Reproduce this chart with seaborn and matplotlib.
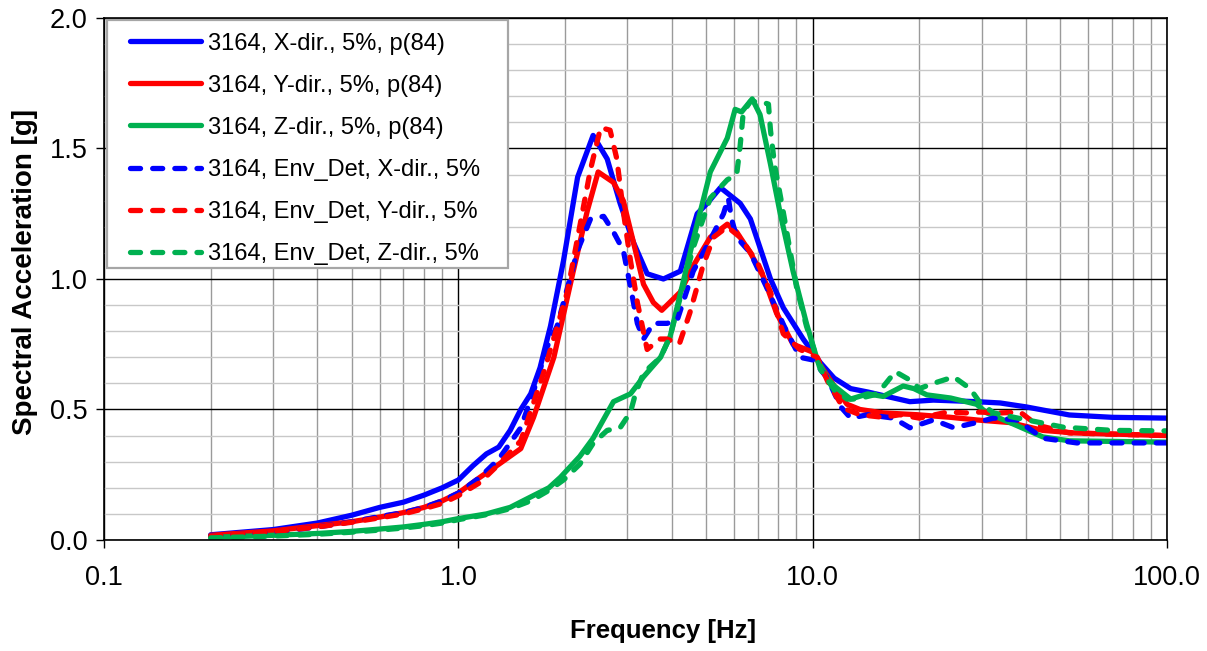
import matplotlib
matplotlib.use("Agg")
import matplotlib.pyplot as plt
import matplotlib.ticker as mticker
from matplotlib.patches import Rectangle
from matplotlib.legend_handler import HandlerLine2D
import seaborn as sns
import numpy as np
import pandas as pd

# ---- data (frequency [Hz], spectral acceleration [g]) ----
x_p84_f = [0.2, 0.3, 0.4, 0.5, 0.6, 0.7, 0.8, 0.9, 1.0, 1.1, 1.2, 1.3, 1.4, 1.5, 1.6, 1.7,
           1.82, 1.98, 2.17, 2.4, 2.63, 2.86, 3.12, 3.41, 3.79, 4.23, 4.72, 5.04, 5.49, 6.24,
           6.67, 7.1, 7.6, 8.26, 9.4, 10.5, 11.5, 12.8, 14.3, 16.2, 18.8, 21.9, 29, 33.8, 40,
           53, 70, 100]
x_p84_sa = [0.02, 0.04, 0.065, 0.095, 0.125, 0.145, 0.172, 0.2, 0.23, 0.285, 0.33, 0.356, 0.42,
            0.5, 0.56, 0.66, 0.82, 1.07, 1.39, 1.55, 1.46, 1.29, 1.14, 1.02, 1.0, 1.03, 1.25,
            1.29, 1.35, 1.29, 1.23, 1.12, 1.0, 0.89, 0.77, 0.68, 0.62, 0.58, 0.567, 0.55, 0.53,
            0.536, 0.53, 0.525, 0.51, 0.479, 0.47, 0.467]

y_p84_f = [0.2, 0.3, 0.4, 0.5, 0.6, 0.7, 0.8, 0.9, 1.0, 1.15, 1.3, 1.43, 1.5, 1.63, 1.86, 2.11,
           2.31, 2.48, 2.74, 2.92, 3.12, 3.33, 3.55, 3.75, 4.23, 4.6, 5.14, 5.74, 6.1, 6.67,
           7.25, 7.9, 8.8, 10, 10.5, 11.5, 12.5, 13.6, 15.8, 19.7, 24.5, 29, 36, 44.6, 55, 100]
y_p84_sa = [0.018, 0.035, 0.055, 0.07, 0.088, 0.105, 0.125, 0.15, 0.18, 0.24, 0.29, 0.33, 0.35,
            0.47, 0.70, 1.03, 1.26, 1.41, 1.37, 1.30, 1.14, 0.98, 0.91, 0.88, 0.95, 1.05, 1.16,
            1.21, 1.18, 1.10, 1.01, 0.87, 0.75, 0.72, 0.67, 0.59, 0.52, 0.50, 0.487, 0.48, 0.47,
            0.46, 0.45, 0.42, 0.41, 0.40]

z_p84_f = [0.2, 0.3, 0.4, 0.5, 0.6, 0.7, 0.8, 0.9, 1.0, 1.2, 1.4, 1.6, 1.8, 1.94, 2.2, 2.4,
           2.74, 3.06, 3.33, 3.72, 3.96, 4.14, 4.6, 5.14, 5.74, 6.04, 6.3, 6.75, 7.1, 7.6, 8.1,
           8.8, 9.6, 10.3, 11, 11.5, 12.8, 14.3, 15.8, 18, 19.3, 21, 24.5, 29, 31, 36, 44.6, 53,
           100]
z_p84_sa = [0.01, 0.018, 0.025, 0.033, 0.042, 0.05, 0.06, 0.07, 0.082, 0.1, 0.125, 0.165, 0.2,
            0.24, 0.32, 0.39, 0.53, 0.56, 0.625, 0.70, 0.78, 0.89, 1.15, 1.41, 1.54, 1.65, 1.64,
            1.69, 1.63, 1.44, 1.25, 1.03, 0.83, 0.69, 0.62, 0.59, 0.54, 0.56, 0.55, 0.59, 0.58,
            0.556, 0.544, 0.52, 0.487, 0.45, 0.395, 0.38, 0.375]

x_env_f = [0.2, 0.3, 0.4, 0.5, 0.6, 0.7, 0.8, 0.9, 1.0, 1.15, 1.3, 1.5, 1.63, 1.78, 1.9, 2.17,
           2.36, 2.57, 2.74, 2.92, 3.06, 3.2, 3.33, 3.55, 3.88, 4.14, 4.6, 5.14, 5.6, 5.78, 5.9,
           6.1, 6.67, 7.4, 8.3, 9.2, 10, 11, 12, 12.8, 14.3, 16.9, 18.8, 21.9, 25, 29, 32.4,
           37.7, 44.6, 55.6, 100]
x_env_sa = [0.015, 0.03, 0.05, 0.07, 0.09, 0.105, 0.125, 0.15, 0.18, 0.24, 0.31, 0.43, 0.57,
            0.74, 0.82, 1.11, 1.23, 1.24, 1.18, 1.11, 0.97, 0.83, 0.77, 0.83, 0.83, 0.84, 1.03,
            1.15, 1.25, 1.31, 1.23, 1.16, 1.10, 0.97, 0.82, 0.70, 0.69, 0.62, 0.51, 0.467, 0.48,
            0.467, 0.43, 0.46, 0.43, 0.45, 0.467, 0.46, 0.39, 0.372, 0.372]

y_env_f = [0.2, 0.3, 0.4, 0.5, 0.6, 0.7, 0.8, 0.9, 1.0, 1.15, 1.3, 1.5, 1.74, 2.03, 2.2, 2.36,
           2.52, 2.68, 2.8, 2.92, 3.06, 3.2, 3.41, 3.7, 3.88, 4.2, 4.5, 4.9, 5.25, 5.74, 6.24,
           7.0, 7.6, 8.26, 9.2, 10.3, 11, 12.2, 13.6, 15.8, 17.6, 20, 24, 27, 29.6, 34, 38.5,
           43, 53, 100]
y_env_sa = [0.015, 0.032, 0.05, 0.068, 0.085, 0.1, 0.12, 0.14, 0.17, 0.22, 0.29, 0.38, 0.64,
            0.95, 1.20, 1.42, 1.58, 1.57, 1.46, 1.26, 1.07, 0.91, 0.73, 0.77, 0.77, 0.75, 0.87,
            1.05, 1.16, 1.20, 1.16, 1.06, 0.95, 0.79, 0.73, 0.70, 0.61, 0.505, 0.48, 0.47, 0.48,
            0.467, 0.49, 0.487, 0.49, 0.487, 0.49, 0.44, 0.41, 0.40]

z_env_f = [0.2, 0.3, 0.4, 0.5, 0.6, 0.7, 0.8, 0.9, 1.0, 1.2, 1.4, 1.6, 1.8, 1.98, 2.2, 2.4,
           2.63, 2.86, 3.06, 3.16, 3.33, 3.72, 3.96, 4.23, 4.6, 5.14, 5.74, 6.1, 6.24, 6.37,
           6.67, 7.1, 7.5, 7.6, 7.8, 8.2, 8.5, 9.0, 9.6, 10.5, 11.5, 12.5, 13.3, 14.9, 15.8,
           17.1, 18.8, 20, 21.9, 25, 27.8, 29.7, 32.4, 37, 42, 51, 70, 100]
z_env_sa = [0.008, 0.015, 0.022, 0.03, 0.038, 0.046, 0.055, 0.065, 0.078, 0.097, 0.12, 0.15,
            0.19, 0.23, 0.29, 0.37, 0.42, 0.43, 0.49, 0.56, 0.64, 0.70, 0.78, 0.93, 1.12, 1.31,
            1.38, 1.40, 1.51, 1.64, 1.68, 1.68, 1.67, 1.57, 1.44, 1.28, 1.16, 0.97, 0.82, 0.655,
            0.575, 0.54, 0.54, 0.556, 0.587, 0.645, 0.613, 0.58, 0.60, 0.625, 0.58, 0.525, 0.487,
            0.47, 0.455, 0.432, 0.42, 0.418]

series = [
    ("3164, X-dir., 5%, p(84)", x_p84_f, x_p84_sa, "#0000FF", "-"),
    ("3164, Y-dir., 5%, p(84)", y_p84_f, y_p84_sa, "#FF0000", "-"),
    ("3164, Z-dir., 5%, p(84)", z_p84_f, z_p84_sa, "#00B050", "-"),
    ("3164, Env_Det, X-dir., 5%", x_env_f, x_env_sa, "#0000FF", "--"),
    ("3164, Env_Det, Y-dir., 5%", y_env_f, y_env_sa, "#FF0000", "--"),
    ("3164, Env_Det, Z-dir., 5%", z_env_f, z_env_sa, "#00B050", "--"),
]

sns.set_theme(style="white")
plt.rcParams["font.family"] = ["Liberation Sans", "DejaVu Sans"]
plt.rcParams.update({"text.color": "black", "axes.labelcolor": "black",
                     "xtick.color": "black", "ytick.color": "black"})

fig = plt.figure(figsize=(12.07, 6.51), dpi=100)
ax = fig.add_axes([0.0862, 0.1705, 0.8807, 0.8019])

for label, f, sa, color, ls in series:
    df = pd.DataFrame({"f": f, "sa": sa})
    sns.lineplot(data=df, x="f", y="sa", ax=ax, color=color, linewidth=3.8,
                 label=label, sort=False, estimator=None)
    l = ax.get_lines()[-1]
    if ls == "--":
        l.set_dashes((1.9, 2.3))
        l.set_dash_capstyle("round")
    else:
        l.set_solid_capstyle("round")

ax.set_xscale("log")
ax.set_xlim(0.1, 100)
ax.set_ylim(0, 2.0)

ax.xaxis.set_major_locator(mticker.FixedLocator([0.1, 1, 10, 100]))
ax.xaxis.set_major_formatter(mticker.FixedFormatter(["0.1", "1.0", "10.0", "100.0"]))
ax.xaxis.set_minor_locator(mticker.LogLocator(base=10, subs=np.arange(2, 10)))
ax.xaxis.set_minor_formatter(mticker.NullFormatter())
ax.yaxis.set_major_locator(mticker.MultipleLocator(0.5))
ax.yaxis.set_minor_locator(mticker.MultipleLocator(0.1))
ax.yaxis.set_major_formatter(mticker.FormatStrFormatter("%.1f"))

ax.grid(which="major", axis="both", color="black", linewidth=1.0)
ax.grid(which="minor", axis="x", color="#9A9A9A", linewidth=1.0)
ax.grid(which="minor", axis="y", color="#C8C8C8", linewidth=1.0)
ax.set_axisbelow(True)

for sp in ax.spines.values():
    sp.set_color("black")
    sp.set_linewidth(1.2)

ax.tick_params(axis="both", which="major", direction="out", length=6, width=1,
               color="black", labelsize=19.5, bottom=True, left=True)
ax.tick_params(axis="x", which="major", pad=12)
ax.tick_params(axis="y", which="major", pad=6)
ax.tick_params(axis="both", which="minor", length=0)

ax.set_xlabel("Frequency [Hz]", fontsize=18.5, fontweight="bold")
ax.set_ylabel("Spectral Acceleration [g]", fontsize=20, fontweight="bold")
ax.xaxis.set_label_coords(0.526, -0.152)
ax.yaxis.set_label_coords(-0.062, 0.513)

# legend: frameless content plus a white box behind it (matches the Excel frame size)
leg = ax.legend(loc="upper left", fontsize=17, frameon=False,
                handlelength=3.5, handletextpad=0.3, labelspacing=0.85,
                borderpad=0.5, borderaxespad=0.12,
                handler_map={l: HandlerLine2D(xpad=0.48) for l in ax.get_lines()})
leg.set_zorder(6)
ax.add_patch(Rectangle((0.003, 0.521), 0.377, 0.475, transform=ax.transAxes,
                       facecolor="white", edgecolor="#A6A6A6", linewidth=1.6, zorder=5))

fig.savefig("out.png", dpi=100, facecolor="white")
